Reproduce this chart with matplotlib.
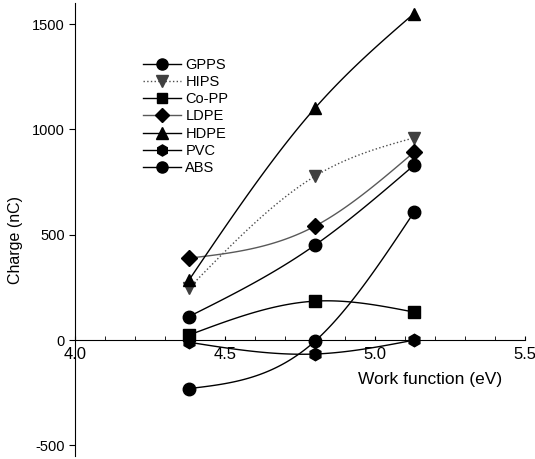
import numpy as np
import matplotlib.pyplot as plt
from matplotlib.lines import Line2D

plt.rcParams['font.family'] = ['Liberation Sans', 'DejaVu Sans']
plt.rcParams['axes.unicode_minus'] = False

# work function of the contact metal (eV)
work_fn = [4.38, 4.80, 5.13]

# charge (nC) per polymer
gpps = [112, 451, 830]
hips = [247, 778, 960]
copp = [24, 185, 133]
ldpe = [389, 541, 892]
hdpe = [285, 1101, 1550]
pvc = [-10, -66, 0]
abs_ = [-230, -5, 607]

series = [
    ("GPPS", gpps, "o", "-", "black", "black"),
    ("HIPS", hips, "v", ":", "0.25", "0.3"),
    ("Co-PP", copp, "s", "-", "black", "black"),
    ("LDPE", ldpe, "D", "-", "black", "0.35"),
    ("HDPE", hdpe, "^", "-", "black", "black"),
    ("PVC", pvc, "h", "-", "black", "black"),
    ("ABS", abs_, "o", "-", "black", "black"),
]


def natural_spline(x, y, n=60):
    # natural cubic spline through three points, for the smooth connecting line
    x = np.asarray(x, float)
    y = np.asarray(y, float)
    h = np.diff(x)
    d = np.diff(y) / h
    m = np.array([0.0, 3 * (d[1] - d[0]) / (h[0] + h[1]), 0.0])
    px, py = [], []
    for i in range(2):
        t = np.linspace(x[i], x[i + 1], n)
        a = x[i + 1] - t
        b = t - x[i]
        s = (m[i] * a ** 3 + m[i + 1] * b ** 3) / (6 * h[i]) \
            + (y[i] / h[i] - m[i] * h[i] / 6) * a \
            + (y[i + 1] / h[i] - m[i + 1] * h[i] / 6) * b
        px.extend(t)
        py.extend(s)
    return px, py


fig = plt.figure(figsize=(5.35, 4.59), dpi=100)
ax = fig.add_axes([75 / 535, 3 / 459, 450 / 535, 453 / 459])

handles = []
for name, vals, mk, ls, mcol, lcol in series:
    sx, sy = natural_spline(work_fn, vals)
    ax.plot(sx, sy, color=lcol, ls=ls, lw=1.0, zorder=2)
    ms = 8 if mk in ("D", "s") else 9
    ax.plot(work_fn, vals, ls="none", marker=mk, ms=ms, color=mcol,
            markeredgecolor=mcol, zorder=3)
    handles.append(Line2D([], [], color=lcol, ls=ls, lw=1.0, marker=mk,
                          ms=ms - 1, markerfacecolor=mcol, markeredgecolor=mcol,
                          label=name))

ax.set_xlim(4.0, 5.5)
ax.set_ylim(-550, 1600)

ax.spines['top'].set_visible(False)
ax.spines['right'].set_visible(False)
ax.spines['bottom'].set_position(('data', 0))

ax.set_xticks([4.0, 4.5, 5.0, 5.5])
ax.set_xticklabels(["4.0", "4.5", "5.0", "5.5"])
ax.set_xticks(np.arange(4.1, 5.5, 0.1), minor=True)
ax.set_yticks([-500, 0, 500, 1000, 1500])
ax.tick_params(axis='x', which='both', direction='in', length=3, labelsize=12, pad=5)
ax.tick_params(axis='y', direction='out', length=4, labelsize=10.5)

ax.set_ylabel("Charge (nC)", fontsize=11.5)
ax.yaxis.set_label_coords(-0.115, 0.477)
ax.text(0.79, 0.168, "Work function (eV)", transform=ax.transAxes,
        ha='center', va='center', fontsize=12.5)

ax.legend(handles=handles, loc='upper left', bbox_to_anchor=(0.135, 0.895),
          frameon=False, fontsize=10.5, handlelength=2.6, handletextpad=0.3,
          labelspacing=0.22, borderpad=0)

fig.savefig("out.png", dpi=100)
